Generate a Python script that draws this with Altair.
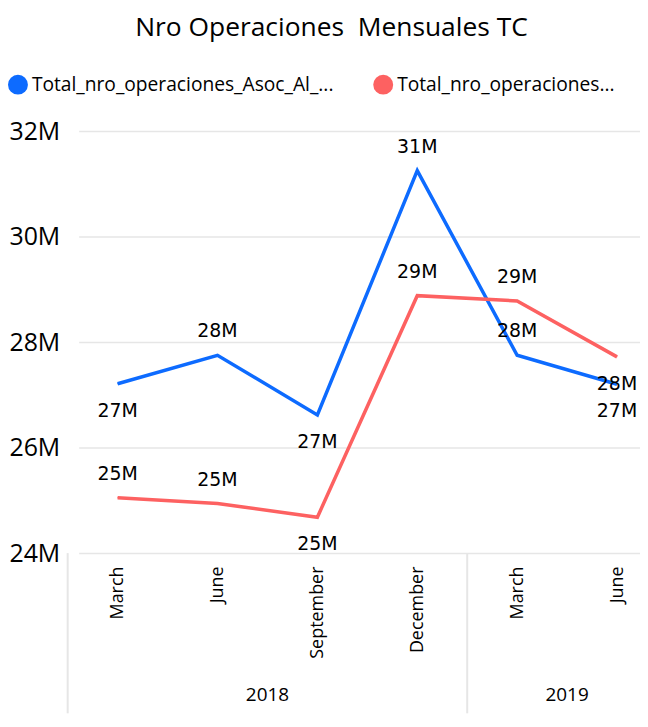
import altair as alt
import pandas as pd

# ---- data ----
months = ["March", "June", "September", "December", "March", "June"]
years = ["2018", "2018", "2018", "2018", "2019", "2019"]
series_a = "Total_nro_operaciones_Asoc_Al_..."
series_b = "Total_nro_operaciones..."
values_a = [27.21e6, 27.75e6, 26.62e6, 31.25e6, 27.75e6, 27.20e6]
values_b = [25.05e6, 24.94e6, 24.68e6, 28.88e6, 28.78e6, 27.72e6]

# label placement (layout, not data)
label_pos_a = ["below", "above", "below", "above", "above", "below"]
label_pos_b = ["above", "above", "below", "above", "above", "below"]

BLUE = "#0D6BFF"
RED = "#FD6161"
GRID = "#E6E6E6"
FONT = "Open Sans"
LABEL_FONT = "DejaVu Sans"

W, H = 564, 424

n = len(months)
idx = list(range(n))
df = pd.DataFrame({
    "i": idx * 2,
    "month": months * 2,
    "year": years * 2,
    "series": [series_a] * n + [series_b] * n,
    "value": values_a + values_b,
    "pos": label_pos_a + label_pos_b,
})
df["serie_leg"] = df["series"]

# year groups derived from the arrays
yr = pd.DataFrame({"i": idx, "year": years})
grp = yr.groupby("year", sort=False)["i"]
years_df = pd.DataFrame({
    "year": list(grp.groups.keys()),
    "center": grp.mean().values,
    "start": (grp.min() - 0.5).values,
})

label_expr = "[" + ",".join("'" + m + "'" for m in months) + "][datum.value]"

xscale = alt.Scale(domain=[-0.39, 5.23], nice=False, zero=False)
yscale = alt.Scale(domain=[24e6, 32e6], nice=False, zero=False)

x_enc = alt.X(
    "i:Q", scale=xscale,
    axis=alt.Axis(values=idx, labelExpr=label_expr, labelAngle=-90, grid=False,
                  ticks=False, domain=False, title=None, labelPadding=13,
                  labelFontSize=18, labelFont=FONT, labelColor="#000000"),
)
y_enc = alt.Y(
    "value:Q", scale=yscale,
    axis=alt.Axis(values=[24e6, 26e6, 28e6, 30e6, 32e6], format="~s", grid=True,
                  gridColor=GRID, gridWidth=1.5, domain=False, ticks=False,
                  title=None, labelFontSize=25, labelFont=FONT,
                  labelColor="#000000", labelPadding=19),
)

cscale = alt.Scale(domain=[series_a, series_b], range=[BLUE, RED])

base = alt.Chart(df)

lines = base.mark_line(strokeWidth=3.5).encode(
    x=x_enc, y=y_enc, color=alt.Color("series:N", scale=cscale, legend=None)
)

legend_pts = base.mark_circle(size=1, opacity=1).encode(
    x=alt.X("i:Q", scale=xscale), y=alt.Y("value:Q", scale=yscale),
    fill=alt.Fill(
        "serie_leg:N", scale=cscale,
        legend=alt.Legend(
            orient="none", legendX=-71, legendY=-57, direction="horizontal",
            title=None, symbolType="circle", symbolSize=400, symbolStrokeWidth=0,
            symbolOpacity=1,
            labelFontSize=19.3, labelFont=FONT, labelColor="#000000",
            columnPadding=39, labelOffset=4, padding=0, labelLimit=500,
        ),
    ),
)

above = base.transform_filter(alt.datum.pos == "above").mark_text(
    dy=-24, font=LABEL_FONT, fontSize=19, color="#000000"
).encode(x=alt.X("i:Q", scale=xscale), y=alt.Y("value:Q", scale=yscale),
         text=alt.Text("value:Q", format=".2s"))

below = base.transform_filter(alt.datum.pos == "below").mark_text(
    dy=27, font=LABEL_FONT, fontSize=19, color="#000000"
).encode(x=alt.X("i:Q", scale=xscale), y=alt.Y("value:Q", scale=yscale),
         text=alt.Text("value:Q", format=".2s"))

seps = alt.Chart(years_df).mark_rule(color=GRID, strokeWidth=2).encode(
    x=alt.X("start:Q", scale=xscale),
    y=alt.value(H),
    y2=alt.value(H + 161),
)

year_text = alt.Chart(years_df).mark_text(
    font=FONT, fontSize=19, color="#000000", baseline="middle"
).encode(
    x=alt.X("center:Q", scale=xscale),
    y=alt.value(H + 143),
    text="year:N",
)

chart = alt.layer(lines, legend_pts, above, below, seps, year_text).properties(
    width=W, height=H,
    title=alt.TitleParams("Nro Operaciones\u00a0 Mensuales TC", fontSize=26.5, font=FONT,
                          fontWeight="normal", anchor="middle", color="#000000",
                          offset=33, dx=-28),
    padding={"left": 0, "top": 5, "right": 0, "bottom": 0},
).resolve_scale(fill="independent").configure_view(stroke=None)

chart.save("out.html", embed_options={"renderer": "svg", "actions": False})
